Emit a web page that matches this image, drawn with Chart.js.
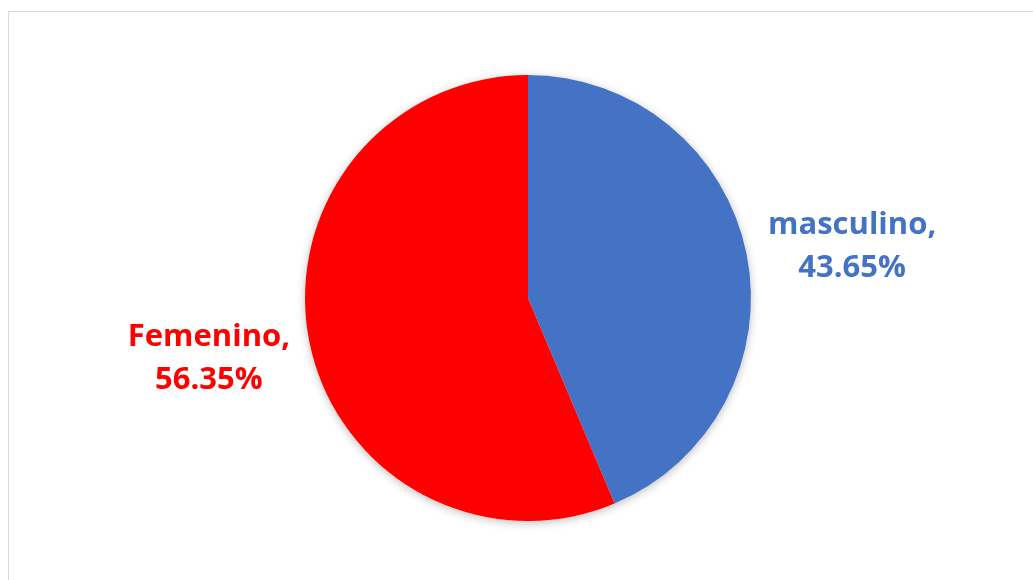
<!DOCTYPE html>
<html>
<head>
<meta charset="utf-8">
<script src="https://cdn.jsdelivr.net/npm/chart.js@4"></script>
<style>
  html, body { margin: 0; padding: 0; background: #fff; }
  #wrap { position: relative; width: 1033px; height: 580px; }
  #frame { position: absolute; left: 8px; top: 11px; width: 1030px; height: 580px;
           border-left: 1px solid #d9d9d9; border-top: 1px solid #d9d9d9; box-sizing: border-box; }
  canvas { position: absolute; left: 0; top: 0; }
</style>
</head>
<body>
<div id="wrap">
  <div id="frame"></div>
  <canvas id="myChart" width="1033" height="580"></canvas>
</div>
<script>
// datos del gráfico
const categories = ['masculino', 'Femenino'];
const values = [43.65, 56.35];
const colors = ['#4472C4', '#FF0000'];

// etiquetas fuera del pastel
const outsideLabels = {
    id: 'outsideLabels',
    beforeDatasetDraw(chart) {
        const c = chart.ctx;
        c.save();
        c.shadowColor = 'rgba(0,0,0,0.25)';
        c.shadowBlur = 8;
        c.shadowOffsetY = 2;
        const arc = chart.getDatasetMeta(0).data[0];
        c.beginPath();
        c.arc(arc.x, arc.y, arc.outerRadius, 0, Math.PI * 2);
        c.fillStyle = '#fff';
        c.fill();
        c.restore();
    },
    afterDatasetsDraw(chart) {
        const c = chart.ctx;
        const meta = chart.getDatasetMeta(0);
        c.save();
        c.font = 'bold 31px "Open Sans"';
        c.textAlign = 'center';
        c.textBaseline = 'middle';
        meta.data.forEach((arc, i) => {
            const mid = (arc.startAngle + arc.endAngle) / 2;
            const d = arc.outerRadius * 1.46;
            const x = arc.x + Math.cos(mid) * d + (i === 0 ? 5 : 0);
            const y = arc.y + Math.sin(mid) * d + (i === 0 ? 13 : -4);
            c.fillStyle = colors[i];
            c.fillText(categories[i] + ',', x, y - 21);
            c.fillText(values[i].toFixed(2) + '%', x, y + 22);
        });
        c.restore();
    }
};

const ctx = document.getElementById('myChart').getContext('2d');
new Chart(ctx, {
    type: 'pie',
    data: {
        labels: categories,
        datasets: [{
            data: values,
            backgroundColor: colors,
            borderWidth: 0
        }]
    },
    options: {
        responsive: false,
        animation: false,
        layout: { padding: { top: 75, bottom: 59, left: 23, right: 0 } },
        plugins: {
            legend: { display: false },
            tooltip: { enabled: false }
        }
    },
    plugins: [outsideLabels]
});
</script>
</body>
</html>
